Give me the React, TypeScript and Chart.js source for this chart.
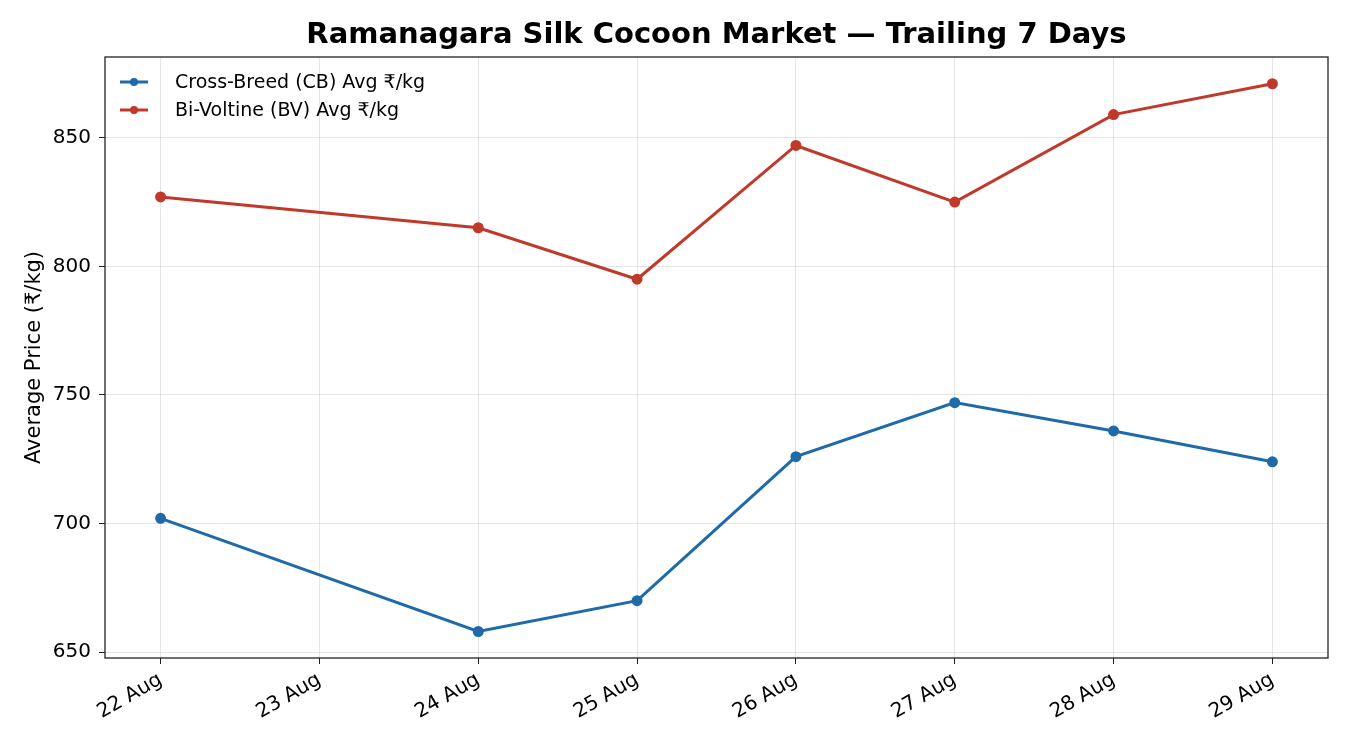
import { useEffect, useRef } from 'react';
import { Chart, registerables } from 'chart.js';

const dayLabels = ['22 Aug', '23 Aug', '24 Aug', '25 Aug', '26 Aug', '27 Aug', '28 Aug', '29 Aug'];
// 23 Aug has no market data
const cbPrices = [702, null, 658, 670, 726, 747, 736, 724];
const bvPrices = [827, null, 815, 795, 847, 825, 859, 871];
const seriesNames = ['Cross-Breed (CB) Avg ₹/kg', 'Bi-Voltine (BV) Avg ₹/kg'];
const seriesColors = ['#1f6aa8', '#c0392b'];
const yTicks = [650, 700, 750, 800, 850];

const FONT = "'DejaVu Sans', sans-serif";

const toPoints = (vals: (number | null)[]) =>
	vals
		.map((v, i) => (v === null ? null : { x: i, y: v }))
		.filter((p) => p !== null) as { x: number; y: number }[];

const framePlugin = {
	id: 'frame',
	afterDraw(chart: Chart) {
		const { ctx, chartArea } = chart;
		const { left, top, right, bottom } = chartArea;
		ctx.save();
		ctx.strokeStyle = '#222';
		ctx.lineWidth = 1.3;
		ctx.strokeRect(left, top, right - left, bottom - top);

		// title
		ctx.fillStyle = '#000';
		ctx.font = `bold 29px ${FONT}`;
		ctx.textAlign = 'center';
		ctx.textBaseline = 'middle';
		ctx.fillText('Ramanagara Silk Cocoon Market — Trailing 7 Days', (left + right) / 2, 35);

		// legend
		ctx.font = `19px ${FONT}`;
		ctx.textAlign = 'left';
		seriesNames.forEach((name, i) => {
			const y = top + 25 + i * 28;
			ctx.strokeStyle = seriesColors[i];
			ctx.lineWidth = 3;
			ctx.beginPath();
			ctx.moveTo(left + 15, y);
			ctx.lineTo(left + 43, y);
			ctx.stroke();
			ctx.fillStyle = seriesColors[i];
			ctx.beginPath();
			ctx.arc(left + 29, y, 4, 0, Math.PI * 2);
			ctx.fill();
			ctx.fillStyle = '#000';
			ctx.fillText(name, left + 70, y + 1);
		});
		ctx.restore();
	}
};

export default function App() {
	const canvasRef = useRef<HTMLCanvasElement>(null);
	useEffect(() => {
		document.body.style.margin = '0';
		Chart.register(...registerables);
		const chart = new Chart(canvasRef.current?.getContext('2d') as CanvasRenderingContext2D, {
			type: 'line',
			data: {
				datasets: [cbPrices, bvPrices].map((vals, i) => ({
					label: seriesNames[i],
					data: toPoints(vals),
					borderColor: seriesColors[i],
					backgroundColor: seriesColors[i],
					borderWidth: 3,
					pointRadius: 4,
					pointHoverRadius: 4,
					tension: 0
				}))
			},
			options: {
				animation: false,
				responsive: false,
				layout: { padding: { top: 57, right: 22, left: 0, bottom: 0 } },
				plugins: {
					legend: { display: false },
					title: { display: false },
					tooltip: { enabled: false }
				},
				scales: {
					x: {
						type: 'linear',
						min: -0.35,
						max: 7.35,
						afterBuildTicks: (scale: any) => {
							scale.ticks = dayLabels.map((_, i) => ({ value: i }));
						},
						afterFit: (scale: any) => {
							scale.height = 92;
						},
						ticks: {
							autoSkip: false,
							minRotation: 30,
							maxRotation: 30,
							color: '#000',
							font: { family: FONT, size: 20 },
							padding: 4,
							callback: (v: any) => dayLabels[v as number] ?? ''
						},
						grid: {
							color: 'rgba(0,0,0,0.1)',
							tickColor: '#222',
							tickLength: 6,
							lineWidth: 1
						},
						border: { display: false }
					},
					y: {
						min: 647.7,
						max: 881.4,
						afterBuildTicks: (scale: any) => {
							scale.ticks = yTicks.map((v) => ({ value: v }));
						},
						afterFit: (scale: any) => {
							scale.width = 105;
						},
						ticks: {
							color: '#000',
							font: { family: FONT, size: 20 },
							padding: 8
						},
						grid: {
							color: 'rgba(0,0,0,0.1)',
							tickColor: '#222',
							tickLength: 6,
							lineWidth: 1
						},
						border: { display: false },
						title: {
							display: true,
							text: 'Average Price (₹/kg)',
							color: '#000',
							font: { family: FONT, size: 21 },
							padding: { top: 22, bottom: 0 }
						}
					}
				}
			},
			plugins: [framePlugin]
		});
		return () => {
			chart.destroy();
		};
	});

	return (
		<div style={{ width: 1350, height: 750 }}>
			<canvas ref={canvasRef} width={1350} height={750}></canvas>
		</div>
	);
}
